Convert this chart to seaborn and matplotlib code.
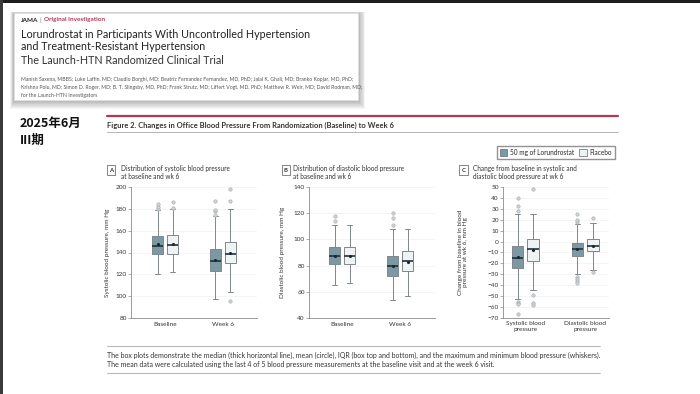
import pandas as pd
import matplotlib.pyplot as plt
import seaborn as sns
from matplotlib.patches import Rectangle, Patch
from matplotlib.lines import Line2D

sns.set_style('white')
plt.rcParams['font.family'] = ['Lato', 'Noto Sans CJK SC', 'DejaVu Sans']

W, H = 700, 394

arms = ['50 mg of Lorundrostat', 'Placebo']
visits = ['Baseline', 'Week 6']
measures = ['Systolic blood\npressure', 'Diastolic blood\npressure']

# box summaries per x category: whisker low, Q1, median, Q3, whisker high
sbp_lor = [[120, 139, 146, 155, 179], [97, 123, 132, 143, 173]]
sbp_pla = [[122, 139, 147, 156, 180], [104, 130, 139, 150, 180]]
sbp_lor_mean = [148, 133]
sbp_pla_mean = [148, 140]
sbp_lor_out = [[180, 182, 184], [174, 178, 179, 187]]
sbp_pla_out = [[181, 186], [96, 187, 198]]

dbp_lor = [[65, 81, 87, 94, 111], [54, 72, 80, 87, 108]]
dbp_pla = [[67, 81, 87, 94, 111], [57, 76, 83.5, 91, 108]]
dbp_lor_mean = [87.5, 80]
dbp_pla_mean = [87.5, 83]
dbp_lor_out = [[114, 118], [111, 116, 120]]
dbp_pla_out = [[], []]

chg_lor = [[-53, -24, -15, -4, 25], [-30, -13, -7, -1, 16]]
chg_pla = [[-44, -18, -7, 2, 25], [-26, -9, -4, 2, 17]]
chg_lor_mean = [-14.5, -7]
chg_pla_mean = [-8, -4]
chg_lor_out = [[28, 33, 40, -55, -56, -57, -66], [18, 20, 25, -32, -34, -36, -38]]
chg_pla_out = [[48, -49, -56, -58], [22, -28]]

pal = {arms[0]: '#749cab', arms[1]: '#eef4f5'}
offs = {arms[0]: -0.13, arms[1]: 0.13}


def fx(x):
    return x / W


def fy(y):
    return 1 - y / H


def long_df(rows_by_arm):
    rec = []
    for arm, rows in rows_by_arm.items():
        for i, vals in enumerate(rows):
            for v in vals:
                rec.append({'pos': i + offs[arm], 'arm': arm, 'value': v})
    return pd.DataFrame(rec)


def panel(ax, cats, lor, pla, lor_mean, pla_mean, lor_out, pla_out, ylim, step, xlim, ylabel, lab_x):
    boxes = long_df({arms[0]: lor, arms[1]: pla})
    sns.boxplot(data=boxes, x='pos', y='value', hue='arm', hue_order=arms, palette=pal,
                native_scale=True, dodge=False, width=0.73, whis=(0, 100), showfliers=False,
                linecolor='#7f878b', linewidth=0.7, legend=False, ax=ax,
                medianprops={'color': '#22303a', 'linewidth': 1.2})
    outs = long_df({arms[0]: lor_out, arms[1]: pla_out})
    if len(outs):
        sns.scatterplot(data=outs, x='pos', y='value', color='#cfd3d5', edgecolor='#a3a9ac',
                        s=6, linewidth=0.4, legend=False, ax=ax, zorder=4)
    means = long_df({arms[0]: [[m] for m in lor_mean], arms[1]: [[m] for m in pla_mean]})
    sns.scatterplot(data=means, x='pos', y='value', color='#1c262c', s=5, linewidth=0,
                    legend=False, ax=ax, zorder=5)
    ax.set_xticks(range(len(cats)))
    ax.set_xticklabels(cats)
    ax.set_xlim(*xlim)
    ax.set_ylim(*ylim)
    ax.set_yticks(range(ylim[0], ylim[1] + 1, step))
    ax.set_xlabel('')
    ax.set_ylabel(ylabel, fontsize=4.6, color='#333333', linespacing=1.1)
    ax.yaxis.set_label_coords(lab_x, 0.5)
    ax.yaxis.grid(True, color='#f0f0f0', linewidth=0.5)
    ax.set_axisbelow(True)
    sns.despine(ax=ax)
    for s in ['left', 'bottom']:
        ax.spines[s].set_color('#8a8a8a')
        ax.spines[s].set_linewidth(0.6)
    ax.tick_params(axis='y', length=2, width=0.5, color='#8a8a8a', labelsize=4.6,
                   labelcolor='#333333', pad=1, left=True)
    ax.tick_params(axis='x', length=0, labelsize=4.6, labelcolor='#333333', pad=3)


fig = plt.figure(figsize=(7, 3.94), dpi=100)
fig.patch.set_facecolor('white')

# frame edges of the slide
fig.add_artist(Rectangle((0, fy(3)), 1, 3 / H, transform=fig.transFigure, color='#1e1e1e', lw=0))
fig.add_artist(Rectangle((0, 0), 2.5 / W, 1, transform=fig.transFigure, color='#3a3a3a', lw=0))

# article card with soft shadow
for i in range(9, 0, -1):
    fig.add_artist(Rectangle((fx(14 - i * 0.4), fy(100 + i)), (344 + i * 1.2) / W, (87 + i * 1.1) / H,
                             transform=fig.transFigure, color='black', alpha=0.035, lw=0))
fig.add_artist(Rectangle((fx(14), fy(100)), 344 / W, 87 / H, transform=fig.transFigure,
                         facecolor='white', edgecolor='#e4e4e4', lw=0.4))
fig.text(fx(21), fy(20), 'JAMA', fontsize=4.6, fontweight='bold', color='#222222', va='center')
fig.text(fx(39.5), fy(20), '|', fontsize=4.6, color='#777777', va='center')
fig.text(fx(44), fy(20), 'Original Investigation', fontsize=4.6, fontweight='bold',
         color='#b03a52', va='center')
fig.text(fx(21), fy(34), 'Lorundrostat in Participants With Uncontrolled Hypertension',
         fontsize=7.75, color='#222222', va='center')
fig.text(fx(21), fy(47), 'and Treatment-Resistant Hypertension', fontsize=7.75,
         color='#222222', va='center')
fig.text(fx(21), fy(61), 'The Launch-HTN Randomized Clinical Trial', fontsize=7.75,
         color='#333333', va='center')
authors = ['Manish Saxena, MBBS; Luke Laffin, MD; Claudio Borghi, MD; Beatriz Fernandez Fernandez, MD, PhD; '
           'Jalal K. Ghali, MD; Branko Kopjar, MD, PhD;',
           'Krishna Polu, MD; Simon D. Roger, MD; B. T. Slingsby, MD, PhD; Frank Strutz, MD; '
           'Liffert Vogt, MD, PhD; Matthew R. Weir, MD; David Rodman, MD;',
           'for the Launch-HTN Investigators']
for k, line in enumerate(authors):
    fig.text(fx(21), fy(80 + k * 7.5), line, fontsize=3.72, color='#555555', va='center')

# slide note
fig.text(fx(20), fy(123), '2025年6月', fontsize=9, fontweight='bold', color='#111111', va='center',
         family=['Noto Sans CJK SC', 'DejaVu Sans'])
fig.text(fx(20), fy(140), 'III期', fontsize=9, fontweight='bold', color='#111111', va='center',
         family=['Noto Sans CJK SC', 'DejaVu Sans'])

# figure header
fig.add_artist(Line2D([fx(107), fx(618)], [fy(116), fy(116)], color='#b03a52', lw=1.6))
fig.text(fx(107), fy(125), 'Figure 2. Changes in Office Blood Pressure From Randomization (Baseline) to Week 6',
         fontsize=5.45, fontweight='bold', color='#333333', va='center')
fig.add_artist(Line2D([fx(107), fx(618)], [fy(132), fy(132)], color='#a8a8a8', lw=0.6))

handles = [Patch(facecolor=pal[a], edgecolor='#666666', lw=0.5) for a in arms]
fig.legend(handles, arms, loc='upper right', bbox_to_anchor=(fx(618), fy(142.5)), ncol=2,
           fontsize=4.7, frameon=True, fancybox=False, edgecolor='#777777', handlelength=1.2,
           handleheight=1.2, columnspacing=0.7, borderpad=0.45, handletextpad=0.4)

axA = fig.add_axes([fx(131), fy(318), 126 / W, 131 / H])
axB = fig.add_axes([fx(309), fy(318), 126 / W, 131 / H])
axC = fig.add_axes([fx(503), fy(318), 106 / W, 131 / H])

panel(axA, visits, sbp_lor, sbp_pla, sbp_lor_mean, sbp_pla_mean, sbp_lor_out, sbp_pla_out,
      (80, 200), 20, (-0.59, 1.59), 'Systolic blood pressure, mm Hg', -0.17)
panel(axB, visits, dbp_lor, dbp_pla, dbp_lor_mean, dbp_pla_mean, dbp_lor_out, dbp_pla_out,
      (40, 140), 20, (-0.57, 1.6), 'Diastolic blood pressure, mm Hg', -0.19)
panel(axC, measures, chg_lor, chg_pla, chg_lor_mean, chg_pla_mean, chg_lor_out, chg_pla_out,
      (-70, 50), 10, (-0.375, 1.4), 'Change from baseline in blood\npressure at wk 6, mm Hg', -0.33)
axC.tick_params(axis='x', pad=2)

titles = [(111, 121, 'A', 'Distribution of systolic blood pressure\nat baseline and wk 6'),
          (286, 293, 'B', 'Distribution of diastolic blood pressure\nat baseline and wk 6'),
          (463.5, 473, 'C', 'Change from baseline in systolic and\ndiastolic blood pressure at wk 6')]
for bx, tx, letter, txt in titles:
    fig.text(fx(bx), fy(170), letter, fontsize=4.3, fontweight='bold', color='#333333',
             ha='center', va='center',
             bbox=dict(boxstyle='square,pad=0.35', facecolor='white', edgecolor='#555555', lw=0.5))
    fig.text(fx(tx), fy(165), txt, fontsize=4.7, color='#333333', va='top', linespacing=1.15)

# footnote
fig.add_artist(Line2D([fx(107), fx(600)], [fy(346), fy(346)], color='#a8a8a8', lw=0.6))
fig.text(fx(107), fy(355), 'The box plots demonstrate the median (thick horizontal line), mean (circle), '
         'IQR (box top and bottom), and the maximum and minimum blood pressure (whiskers).',
         fontsize=5.0, color='#333333', va='center')
fig.text(fx(107), fy(364), 'The mean data were calculated using the last 4 of 5 blood pressure '
         'measurements at the baseline visit and at the week 6 visit.',
         fontsize=5.0, color='#333333', va='center')
fig.add_artist(Line2D([fx(107), fx(600)], [fy(373), fy(373)], color='#a8a8a8', lw=0.6))

fig.savefig('out.png', dpi=100)
